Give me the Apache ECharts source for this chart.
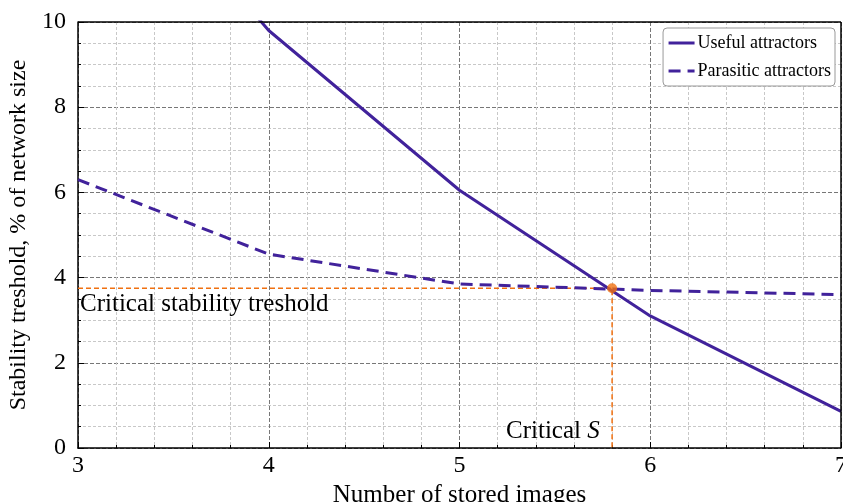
<!DOCTYPE html>
<html>
<head>
    <meta charset="utf-8">
    <title>Stability threshold</title>
    <script src="https://cdn.jsdelivr.net/npm/echarts@6/dist/echarts.min.js"></script>
    <style>
        html, body { margin: 0; padding: 0; background: #fff; }
        #main { width: 843px; height: 502px; }
    </style>
</head>
<body>
    <div id="main"></div>
    <script type="text/javascript">
        // stored images (x) and thresholds in % of network size
        var images = [3, 4, 5, 6, 7];
        var useful = [15.0, 9.8, 6.05, 3.1, 0.86];
        var parasitic = [6.3, 4.55, 3.85, 3.7, 3.6];
        var criticalS = 5.8;
        var criticalT = 3.75;

        var purple = '#41229b';
        var orange = '#f07010';
        var font = '"Liberation Serif", "DejaVu Serif", serif';

        function pairs(xs, ys) {
            return xs.map(function (x, i) { return [x, ys[i]]; });
        }

        var myChart = echarts.init(document.getElementById('main'));

        var option = {
            animation: false,
            grid: { left: 78, right: 2, top: 22, bottom: 54, show: false, outerBoundsMode: 'none', containLabel: false },
            textStyle: { fontFamily: font },
            legend: {
                right: 8,
                top: 28,
                orient: 'vertical',
                backgroundColor: '#fff',
                borderColor: '#999',
                borderWidth: 1,
                borderRadius: 4,
                padding: [6, 4, 6, 4],
                itemGap: 10,
                itemWidth: 26,
                itemHeight: 14,
                itemStyle: { opacity: 0 },
                lineStyle: { width: 3 },
                data: ['Useful attractors', 'Parasitic attractors'],
                textStyle: { fontFamily: font, fontSize: 18, color: '#000', padding: [0, 0, 0, -2] }
            },
            xAxis: {
                type: 'value',
                min: 3, max: 7, interval: 1,
                name: 'Number of stored images',
                nameLocation: 'middle',
                nameGap: 30,
                nameTextStyle: { fontFamily: font, fontSize: 25, color: '#000' },
                axisLine: { show: true, onZero: false, lineStyle: { color: '#000', width: 1.5 } },
                axisTick: { show: true, inside: true, length: 6, lineStyle: { color: '#000' } },
                minorTick: { show: true, splitNumber: 5, length: 3, lineStyle: { color: '#000' } },
                axisLabel: { fontFamily: font, fontSize: 24, color: '#000', margin: 6 },
                splitLine: { show: true, lineStyle: { color: '#777', type: [4, 2], width: 1 } },
                minorSplitLine: { show: true, lineStyle: { color: '#c8c8c8', type: [3, 2], width: 1 } }
            },
            yAxis: {
                type: 'value',
                min: 0, max: 10, interval: 2,
                name: 'Stability treshold, % of network size',
                nameLocation: 'middle',
                nameGap: 45,
                nameTextStyle: { fontFamily: font, fontSize: 24, color: '#000' },
                axisLine: { show: true, onZero: false, lineStyle: { color: '#000', width: 1.5 } },
                axisTick: { show: true, inside: true, length: 6, lineStyle: { color: '#000' } },
                minorTick: { show: true, splitNumber: 4, length: 3, lineStyle: { color: '#000' } },
                axisLabel: { fontFamily: font, fontSize: 24, color: '#000', margin: 12 },
                splitLine: { show: true, lineStyle: { color: '#777', type: [4, 2], width: 1 } },
                minorSplitLine: { show: true, lineStyle: { color: '#c8c8c8', type: [3, 2], width: 1 } }
            },
            graphic: [
                // frame top and right
                { type: 'line', shape: { x1: 78, y1: 22, x2: 841, y2: 22 }, style: { stroke: '#000', lineWidth: 1.5 }, z: 10 },
                { type: 'line', shape: { x1: 841, y1: 22, x2: 841, y2: 448 }, style: { stroke: '#000', lineWidth: 1.5 }, z: 10 },
                { type: 'text', left: 80, top: 292, style: { text: 'Critical stability treshold', font: '25px ' + font, fill: '#000' }, z: 20 },
                {
                    type: 'text', left: 506, top: 419, z: 20,
                    style: {
                        text: '{a|Critical }{b|S}',
                        fill: '#000',
                        rich: {
                            a: { fontFamily: font, fontSize: 25, fill: '#000' },
                            b: { fontFamily: font, fontSize: 25, fontStyle: 'italic', fill: '#000' }
                        }
                    }
                }
            ],
            series: [
                {
                    name: 'Critical',
                    type: 'line',
                    data: [[3, criticalT], [criticalS, criticalT], [criticalS, 0]],
                    symbol: 'none',
                    lineStyle: { color: orange, width: 1.5, type: [5, 3] },
                    z: 3
                },
                {
                    name: 'Useful attractors',
                    type: 'line',
                    data: pairs(images, useful),
                    symbol: 'none',
                    color: purple,
                    lineStyle: { color: purple, width: 3 },
                    z: 4
                },
                {
                    name: 'Parasitic attractors',
                    type: 'line',
                    data: pairs(images, parasitic),
                    symbol: 'none',
                    color: purple,
                    lineStyle: { color: purple, width: 3, type: [12, 7] },
                    z: 4
                },
                {
                    name: 'Point',
                    type: 'scatter',
                    data: [[criticalS, criticalT]],
                    symbolSize: 10,
                    itemStyle: { color: orange },
                    z: 5
                }
            ]
        };

        myChart.setOption(option);
    </script>
</body>
</html>
